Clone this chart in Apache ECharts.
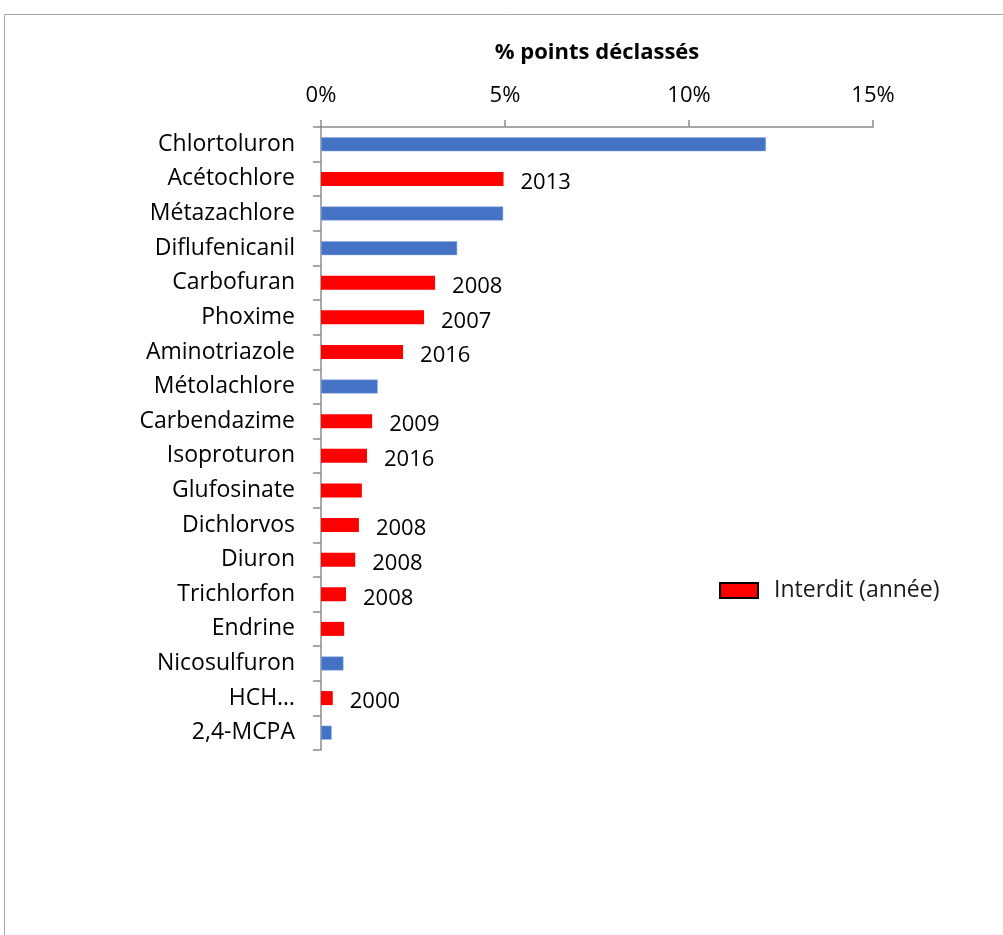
<!DOCTYPE html>
<html>
<head>
<meta charset="utf-8">
<script src="https://cdn.jsdelivr.net/npm/echarts@6/dist/echarts.min.js"></script>
<style>
  html, body { margin: 0; padding: 0; background: #fff; }
  #chart { width: 1003px; height: 935px; }
</style>
</head>
<body>
<div id="chart"></div>
<script>
// substances, du plus au moins déclassant
const substances = ['Chlortoluron', 'Acétochlore', 'Métazachlore', 'Diflufenicanil', 'Carbofuran',
	'Phoxime', 'Aminotriazole', 'Métolachlore', 'Carbendazime', 'Isoproturon', 'Glufosinate',
	'Dichlorvos', 'Diuron', 'Trichlorfon', 'Endrine', 'Nicosulfuron', 'HCH…', '2,4-MCPA'];

// part des points déclassés (fraction)
const pctDeclasses = [0.1209, 0.0496, 0.0495, 0.0370, 0.0310, 0.0280, 0.0223, 0.0154, 0.0139,
	0.0125, 0.0111, 0.0103, 0.0093, 0.0068, 0.0063, 0.0061, 0.0032, 0.0029];

// substance interdite ? (rouge) sinon bleu
const interdit = [false, true, false, false, true, true, true, false, true,
	true, true, true, true, true, true, false, true, false];

// année d'interdiction (étiquette)
const anneeInterdiction = ['', '2013', '', '', '2008', '2007', '2016', '', '2009',
	'2016', '', '2008', '2008', '2008', '', '', '2000', ''];

const xTicks = [0, 0.05, 0.10, 0.15];

const FONT = 'Open Sans';

let chart = echarts.init(document.getElementById('chart'));

let blueData = pctDeclasses.map((v, i) => interdit[i] ? null : v);
let redData = pctDeclasses.map((v, i) => interdit[i] ? { value: v, annee: anneeInterdiction[i] } : null);

let option = {
	animation: false,
	textStyle: { fontFamily: FONT },
	graphic: [{
		type: 'rect',
		shape: { x: 4.5, y: 14.5, width: 1100, height: 1000 },
		style: { fill: 'none', stroke: '#a6a6a6', lineWidth: 1 },
		silent: true
	}],
	grid: { left: 321, right: 130, top: 127, bottom: 185 },
	legend: {
		selectedMode: false,
		left: 714,
		top: 574,
		icon: 'rect',
		itemWidth: 38,
		itemHeight: 15,
		data: ['Interdit (année)'],
		itemStyle: { borderColor: '#000', borderWidth: 2 },
		textStyle: { fontSize: 23, color: '#1a1a1a', fontFamily: FONT, padding: [0, 0, 0, 11] }
	},
	xAxis: {
		type: 'value',
		position: 'top',
		min: xTicks[0],
		max: xTicks[xTicks.length - 1],
		interval: 0.05,
		name: '% points déclassés',
		nameLocation: 'middle',
		nameGap: 63,
		nameTextStyle: { fontSize: 22, fontWeight: 'bold', color: '#000', fontFamily: FONT },
		axisLine: { show: true, lineStyle: { color: '#8c8c8c', width: 1.5 } },
		axisTick: { show: true, length: 7, lineStyle: { color: '#8c8c8c', width: 1.5 } },
		splitLine: { show: false },
		axisLabel: {
			fontSize: 22,
			color: '#000',
			margin: 20,
			formatter: v => Math.round(v * 100) + '%'
		}
	},
	yAxis: {
		type: 'category',
		inverse: true,
		data: substances,
		axisLine: { show: true, lineStyle: { color: '#8c8c8c', width: 1.5 } },
		axisTick: { show: true, length: 8, lineStyle: { color: '#8c8c8c', width: 1.5 } },
		axisLabel: { fontSize: 23, color: '#000', margin: 26 }
	},
	series: [
		{
			name: 'Autorisé',
			type: 'bar',
			data: blueData,
			barWidth: 14,
			barGap: '-100%',
			itemStyle: { color: '#4472C4', borderColor: '#8faadc', borderWidth: 0.5 }
		},
		{
			name: 'Interdit (année)',
			type: 'bar',
			data: redData,
			barWidth: 14,
			itemStyle: { color: '#FF0000' },
			label: {
				show: true,
				position: 'right',
				distance: 17,
				fontSize: 22,
				color: '#000',
				offset: [0, 4],
				formatter: p => p.data && p.data.annee ? p.data.annee : ''
			}
		}
	]
};

chart.setOption(option);
</script>
</body>
</html>
